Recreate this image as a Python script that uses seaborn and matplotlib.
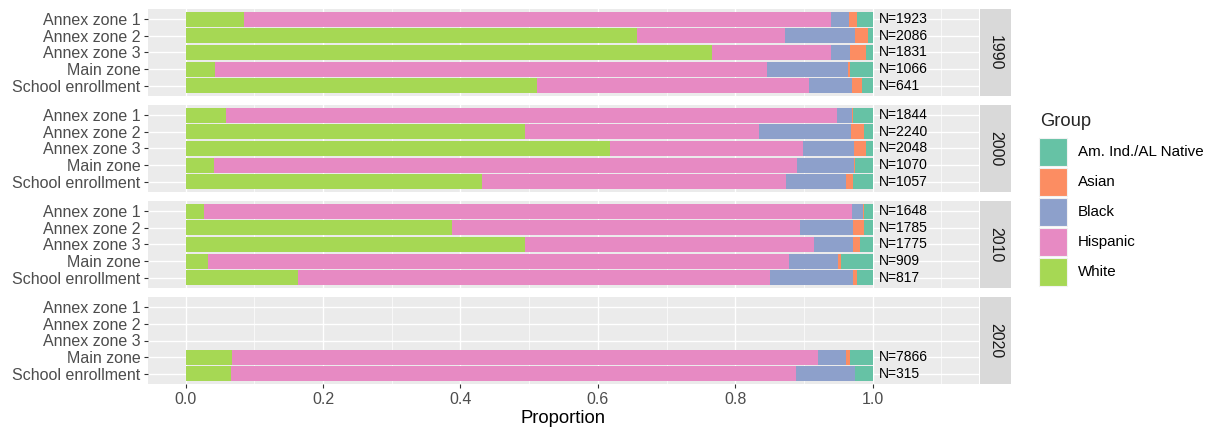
import numpy as np
import pandas as pd
import matplotlib
matplotlib.use("Agg")
import matplotlib.pyplot as plt
from matplotlib.patches import Rectangle
import seaborn as sns

# ---- data -------------------------------------------------------------
years = ["1990", "2000", "2010", "2020"]
zones = ["Annex zone 1", "Annex zone 2", "Annex zone 3", "Main zone", "School enrollment"]
groups = ["Am. Ind./AL Native", "Asian", "Black", "Hispanic", "White"]
colors = {"Am. Ind./AL Native": "#66C2A5", "Asian": "#FC8D62", "Black": "#8DA0CB",
          "Hispanic": "#E78AC3", "White": "#A6D854"}

# one value per (year, zone), year-major; NaN where a zone has no data
nan = np.nan
white = [0.085, 0.657, 0.766, 0.043, 0.511,
         0.058, 0.494, 0.618, 0.041, 0.432,
         0.026, 0.387, 0.494, 0.033, 0.163,
         nan, nan, nan, 0.068, 0.066]
hispanic = [0.854, 0.216, 0.173, 0.804, 0.396,
            0.890, 0.341, 0.281, 0.849, 0.442,
            0.944, 0.507, 0.421, 0.846, 0.687,
            nan, nan, nan, 0.852, 0.822]
black = [0.026, 0.102, 0.028, 0.117, 0.063,
         0.022, 0.134, 0.074, 0.083, 0.088,
         0.016, 0.077, 0.056, 0.071, 0.121,
         nan, nan, nan, 0.042, 0.087]
asian = [0.012, 0.019, 0.023, 0.003, 0.015,
         0.002, 0.019, 0.017, 0.002, 0.009,
         0.002, 0.017, 0.011, 0.004, 0.007,
         nan, nan, nan, 0.005, 0.000]
am_ind = [0.023, 0.006, 0.010, 0.033, 0.015,
          0.028, 0.012, 0.010, 0.025, 0.029,
          0.012, 0.012, 0.018, 0.046, 0.022,
          nan, nan, nan, 0.033, 0.025]
counts = [1923, 2086, 1831, 1066, 641,
          1844, 2240, 2048, 1070, 1057,
          1648, 1785, 1775, 909, 817,
          nan, nan, nan, 7866, 315]

df = pd.DataFrame({
    "year": np.repeat(years, len(zones)),
    "zone": zones * len(years),
    "White": white, "Hispanic": hispanic, "Black": black,
    "Asian": asian, "Am. Ind./AL Native": am_ind, "N": counts,
})

# stacking order from the left edge of each bar
stack = ["White", "Hispanic", "Black", "Asian", "Am. Ind./AL Native"]

# ---- figure -----------------------------------------------------------
W, H = 1214, 437
sns.set_theme(style="darkgrid")
plt.rcParams["font.family"] = ["Liberation Sans", "DejaVu Sans"]
fig = plt.figure(figsize=(W / 100, H / 100), dpi=100)
fig.patch.set_facecolor("white")

px_l, px_r = 148, 979
panel_h = 87
tops = [9, 105, 201, 297]
tick_col = "#4D4D4D"

for i, yr in enumerate(years):
    top = tops[i]
    ax = fig.add_axes([px_l / W, 1 - (top + panel_h) / H, (px_r - px_l) / W, panel_h / H])
    ax.set_facecolor("#EBEBEB")
    sub = df[df["year"] == yr].dropna(subset=["White"]).copy()
    cum = sub[stack].cumsum(axis=1)
    cum["zone"] = sub["zone"].values
    # draw the longest cumulative layer first so shorter ones sit on top
    for g in reversed(stack):
        sns.barplot(data=cum, x=g, y="zone", order=zones, orient="h",
                    color=colors[g], saturation=1, width=0.9, errorbar=None,
                    linewidth=0, ax=ax, zorder=3)
    for _, row in sub.iterrows():
        ax.text(1.0087, zones.index(row["zone"]), f"N={int(row['N'])}",
                ha="left", va="center", fontsize=10, color="black", zorder=4)

    ax.set_xlim(-0.055, 1.155)
    ax.set_ylim(4.6, -0.6)
    ax.set_xlabel("")
    ax.set_ylabel("")
    ax.set_xticks([0, 0.2, 0.4, 0.6, 0.8, 1.0])
    ax.set_xticks([0.1, 0.3, 0.5, 0.7, 0.9, 1.1], minor=True)
    ax.set_yticks(range(len(zones)))
    ax.set_yticklabels(zones)
    ax.grid(which="major", color="white", linewidth=1.0, zorder=0)
    ax.grid(which="minor", axis="x", color="white", linewidth=0.5, zorder=0)
    ax.set_axisbelow(True)
    for s in ax.spines.values():
        s.set_visible(False)
    ax.tick_params(axis="y", which="major", left=True, length=2.9, width=0.8,
                   color="#333333", labelsize=11.5, labelcolor=tick_col, pad=2.5)
    ax.tick_params(axis="x", which="minor", bottom=False)
    if i == len(years) - 1:
        ax.set_xticklabels(["0.0", "0.2", "0.4", "0.6", "0.8", "1.0"])
        ax.tick_params(axis="x", which="major", bottom=True, length=2.9, width=0.8,
                       color="#333333", labelsize=11.5, labelcolor=tick_col, pad=3)
        ax.set_xlabel("Proportion", fontsize=13.3, color="black", labelpad=2)
    else:
        ax.tick_params(axis="x", which="major", bottom=False, labelbottom=False)

    # facet strip on the right
    sax = fig.add_axes([980 / W, 1 - (top + panel_h) / H, 31 / W, panel_h / H])
    sax.set_facecolor("#D9D9D9")
    sax.grid(False)
    sax.set_xticks([])
    sax.set_yticks([])
    for s in sax.spines.values():
        s.set_visible(False)
    sax.text(0.5, 0.5, yr, rotation=-90, ha="center", va="center",
             fontsize=11.5, color="#1A1A1A", transform=sax.transAxes)

# ---- legend -----------------------------------------------------------
fig.text(1040 / W, 1 - 121 / H, "Group", fontsize=13.2, ha="left", va="center")
key_x, key_w, key_h, pitch, key_top = 1039, 28, 28, 30, 138
for j, g in enumerate(groups):
    y0 = key_top + j * pitch
    fig.patches.append(Rectangle((key_x / W, 1 - (y0 + key_h) / H), key_w / W, key_h / H,
                                 transform=fig.transFigure, facecolor=colors[g],
                                 edgecolor="#F2F2F2", linewidth=0.8))
    fig.text(1078 / W, 1 - (y0 + key_h / 2) / H, g, fontsize=10.9,
             ha="left", va="center", color="black")

fig.savefig("out.png", dpi=100)
